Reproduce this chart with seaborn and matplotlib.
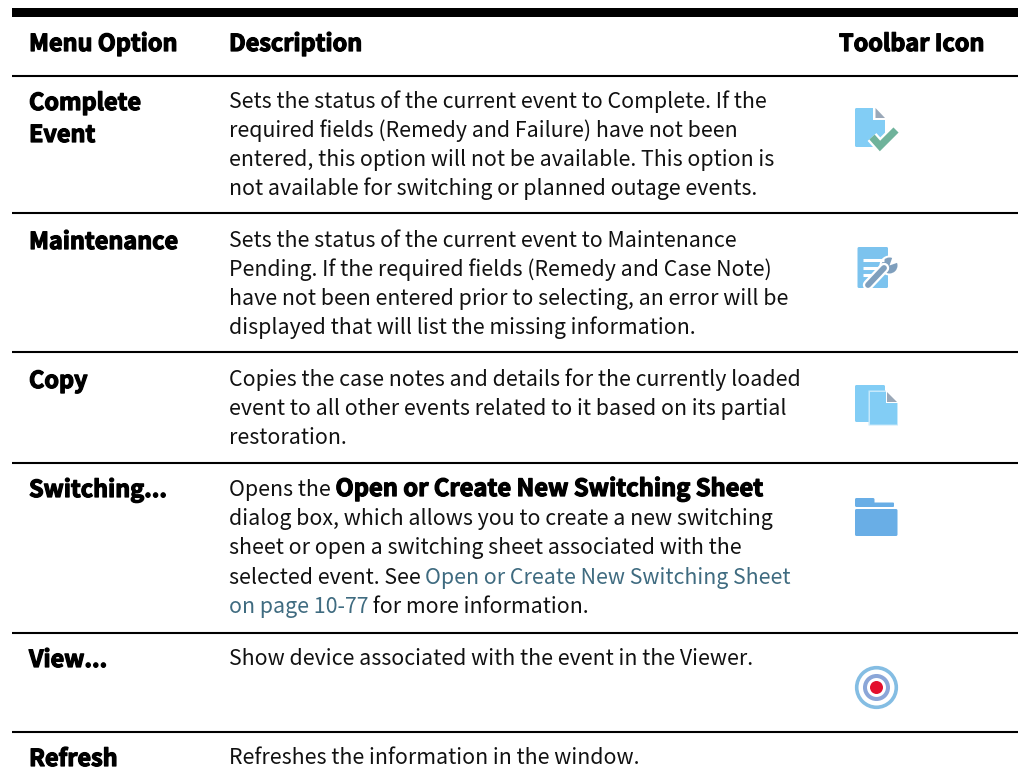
import matplotlib
matplotlib.use("Agg")
import matplotlib.pyplot as plt
import matplotlib.patheffects as pe
from matplotlib.patches import FancyBboxPatch, Polygon, Circle, Rectangle
import seaborn as sns

headers = ["Menu Option", "Description", "Toolbar Icon"]
options = [["Complete", "Event"], ["Maintenance"], ["Copy"], ["Switching..."], ["View..."], ["Refresh"]]
descriptions = [
    ["Sets the status of the current event to Complete. If the",
     "required fields (Remedy and Failure) have not been",
     "entered, this option will not be available. This option is",
     "not available for switching or planned outage events."],
    ["Sets the status of the current event to Maintenance",
     "Pending. If the required fields (Remedy and Case Note)",
     "have not been entered prior to selecting, an error will be",
     "displayed that will list the missing information."],
    ["Copies the case notes and details for the currently loaded",
     "event to all other events related to it based on its partial",
     "restoration."],
    [[("Opens the ", "n"), ("Open or Create New Switching Sheet", "b")],
     "dialog box, which allows you to create a new switching",
     "sheet or open a switching sheet associated with the",
     [("selected event. See ", "n"), ("Open or Create New Switching Sheet", "l")],
     [("on page 10-77", "l"), (" for more information.", "n")]],
    ["Show device associated with the event in the Viewer."],
    ["Refreshes the information in the window."],
]
row_text_y = [107.5, 246.5, 385.5, 496, 665, 764]
option_y = [110, 249, 388, 497, 667, 766]
rule_y = [76, 213, 352, 463, 633, 732]

BLUE = "#82cdf5"
GREY = "#9aa8b8"
LINK = "#3f6b80"
FONT = ["Noto Sans CJK SC", "DejaVu Sans"]
BODY = 15.35
HEAD = 16.85

sns.set_theme(style="white")
plt.rcParams["font.family"] = FONT
fig, ax = plt.subplots(figsize=(10.18, 7.79), dpi=100)
ax.set_position([0, 0, 1, 1])
ax.set_xlim(0, 1018)
ax.set_ylim(779, 0)
ax.axis("off")
fig.patch.set_facecolor("white")

heavy = [pe.withStroke(linewidth=0.9, foreground="black")]


def bold(x, y, s, size=HEAD):
    return ax.text(x, y, s, fontsize=size, fontweight="bold", color="black", va="baseline",
                   path_effects=heavy)


def body_line(x, y, line):
    if isinstance(line, str):
        line = [(line, "n")]
    r = fig.canvas.get_renderer()
    for s, kind in line:
        if kind == "b":
            t = bold(x, y, s, HEAD + 0.2)
            size = HEAD + 0.2
        else:
            t = ax.text(x, y, s, fontsize=BODY, va="baseline", color=LINK if kind == "l" else "#111111")
            size = BODY
        # width including trailing spaces
        probe = ax.text(0, 0, s.replace(" ", "\u00a0"), fontsize=size, fontweight=t.get_fontweight())
        x += probe.get_window_extent(r).width
        probe.remove()


# rules
ax.add_patch(Rectangle((12, 8), 1006, 9, color="black", lw=0, clip_on=False))
for y in rule_y:
    ax.plot([12, 1018], [y, y], color="black", lw=1.5, solid_capstyle="butt")

# header
bold(29, 51, headers[0])
bold(229, 51, headers[1])
bold(839, 51, headers[2])

# rows
for opt, desc, y0, y1 in zip(options, descriptions, row_text_y, option_y):
    for i, s in enumerate(opt):
        bold(29, y1 + i * 32, s)
    for i, line in enumerate(desc):
        body_line(229, y0 + i * 29.2, line)


def doc(x0, y0, x1, y1, color=BLUE, edge="none", r=1.5, lw=0):
    ax.add_patch(FancyBboxPatch((x0 + r, y0 + r), x1 - x0 - 2 * r, y1 - y0 - 2 * r,
                                boxstyle=f"round,pad={r},rounding_size={r}",
                                fc=color, ec=edge, lw=lw))


# icon 1: document with check
doc(855, 108, 885, 147)
ax.add_patch(Polygon([(873, 106), (887, 106), (887, 120), (873, 120)], fc="white", ec="none"))
ax.add_patch(Polygon([(875.5, 108), (885, 118), (875.5, 118)], fc=GREY, ec="none"))
ax.plot([872, 880, 896], [137, 146, 130], color="white", lw=8.5, solid_capstyle="butt", solid_joinstyle="miter")
ax.plot([872, 880, 896], [137, 146, 130], color="#6fb39b", lw=5.2, solid_capstyle="butt", solid_joinstyle="miter")

# icon 2: form with wrench
doc(857.5, 247, 888, 288, color="#7cc3ee")
for yy, xe in zip([260, 267.5, 275], [884, 880, 876]):
    ax.plot([863, xe], [yy, yy], color="white", lw=2.2, solid_capstyle="butt")
ax.plot([868, 884], [285, 268], color="white", lw=7.5, solid_capstyle="round")
ax.add_patch(Circle((889.5, 265.5), 10, fc="white", ec="none"))
ax.plot([868, 884], [285, 268], color="#7f9fbd", lw=4.2, solid_capstyle="round")
ax.add_patch(Circle((889.5, 265.5), 8, fc="#7f9fbd", ec="none"))
ax.add_patch(Polygon([(889.5, 265.5), (899.5, 262), (893, 255.5)], fc="white", ec="none"))
ax.add_patch(Circle((868, 285), 1.0, fc="white", ec="none"))

# icon 3: two documents
doc(855, 385, 885, 422)
ax.add_patch(Polygon([(868.5, 390.5), (886, 390.5), (898, 403), (898, 425.5), (868.5, 425.5)], fc="#c6e9fb", ec="none"))
ax.add_patch(Polygon([(870, 392), (886, 392), (897, 403), (897, 424.5), (870, 424.5)], fc=BLUE, ec="none"))
ax.add_patch(Polygon([(886, 390), (898.5, 390), (898.5, 403), (886, 403)], fc="white", ec="none"))
ax.add_patch(Polygon([(887, 392), (897, 402), (887, 402)], fc=GREY, ec="none"))

# icon 4: folder
FOLDER = "#69aee6"
doc(855, 498, 874.5, 507, color=FOLDER)
doc(860, 502.5, 894, 507, color=FOLDER, r=1)
doc(855, 509, 897.5, 536, color=FOLDER)

# icon 5: target
ax.add_patch(Circle((876.5, 687.5), 19.8, fc="none", ec="#84bde3", lw=2.6))
ax.add_patch(Circle((876.5, 687.5), 11.5, fc="none", ec="#8ba6d8", lw=2.9))
ax.add_patch(Circle((876.5, 687.5), 6.5, fc="#e30f2d", ec="none"))

fig.savefig("out.png", dpi=100)
